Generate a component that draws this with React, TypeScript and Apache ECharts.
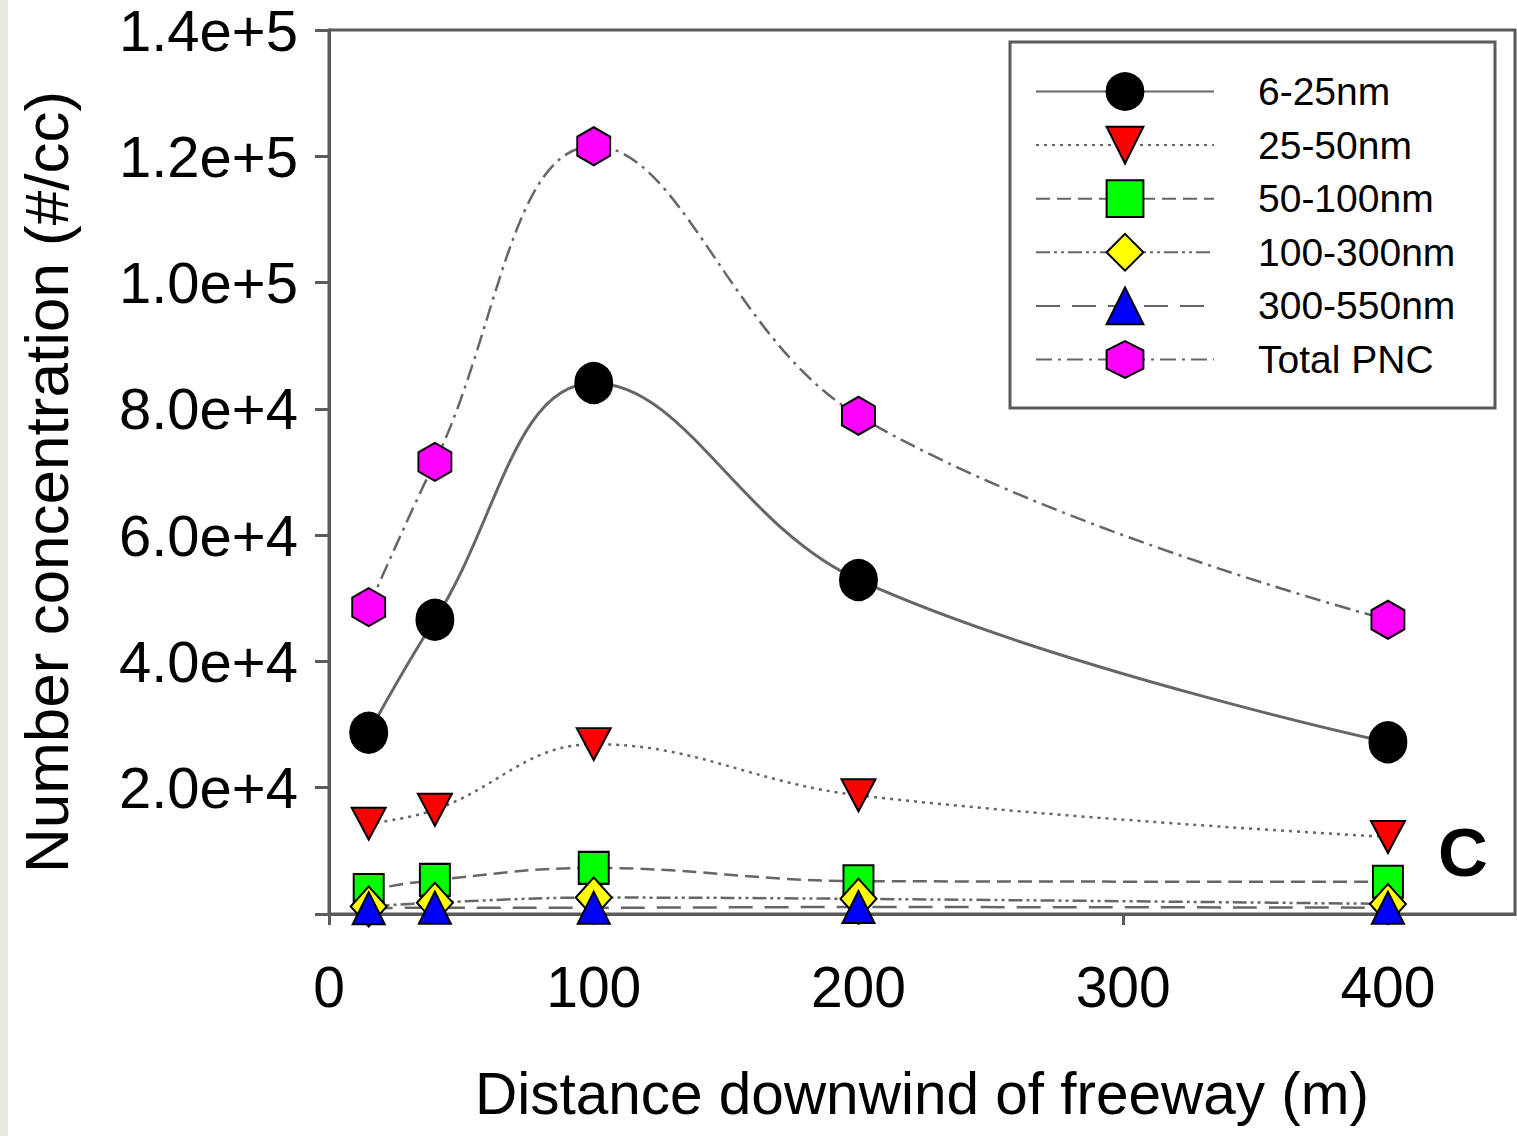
import React, { useEffect, useRef } from "react";
import * as echarts from "echarts";

// Distance downwind of the freeway (m)
const distances = [15, 40, 100, 200, 400];

// Number concentration (#/cc) per particle size range
const nm6_25 = [28700, 46600, 84100, 52900, 27200];
const nm25_50 = [14300, 16500, 26900, 18800, 12200];
const nm50_100 = [3800, 5400, 7300, 5200, 5100];
const nm100_300 = [1200, 1800, 2600, 2400, 1600];
const nm300_550 = [900, 1000, 1000, 1100, 1000];
const totalPNC = [48600, 71600, 121600, 78900, 46600];

const seriesNames = ["6-25nm", "25-50nm", "50-100nm", "100-300nm", "300-550nm", "Total PNC"];

const FONT = "'Liberation Sans', Arial, sans-serif";
const LINE_GREY = "#666666";
const FRAME_GREY = "#5a5a5a";

const HEXAGON = "path://M0,-1 L0.866,-0.5 L0.866,0.5 L0,1 L-0.866,0.5 L-0.866,-0.5 Z";
const TRIANGLE_DOWN = "path://M0,0 L2,0 L1,2 Z";

export default function App() {
  const ref = useRef<HTMLDivElement>(null);

  useEffect(() => {
    if (!ref.current) return;
    const chart = echarts.init(ref.current, null, { renderer: "svg" });

    const toPairs = (vals: number[]) => distances.map((d, i) => [d, vals[i]]);

    const makeSeries = (
      name: string,
      vals: number[],
      symbol: string,
      symbolSize: number[],
      fill: string,
      lineType: any,
      lineWidth = 2.5
    ) => ({
      name,
      type: "line",
      data: toPairs(vals),
      smooth: 0.4,
      clip: false,
      symbol,
      symbolSize,
      symbolKeepAspect: false,
      showSymbol: true,
      itemStyle: { color: fill, borderColor: "#000", borderWidth: 2, opacity: 1 },
      lineStyle: { color: LINE_GREY, width: lineWidth, type: lineType },
      emphasis: { disabled: true },
    });

    const option: any = {
      animation: false,
      backgroundColor: "#ffffff",
      textStyle: { fontFamily: FONT },
      grid: {
        left: 329,
        right: 2,
        top: 30,
        bottom: 222,
        containLabel: false,
        outerBoundsMode: "none",
        show: true,
        borderColor: FRAME_GREY,
        borderWidth: 3,
        backgroundColor: "transparent",
      },
      xAxis: {
        type: "value",
        min: 0,
        max: 448,
        interval: 100,
        name: "Distance downwind of freeway (m)",
        nameLocation: "middle",
        nameGap: 150,
        nameTextStyle: { fontSize: 58.5, color: "#000", fontFamily: FONT },
        axisLine: { show: true, onZero: false, lineStyle: { color: FRAME_GREY, width: 3 } },
        axisTick: { show: true, length: 11, lineStyle: { color: FRAME_GREY, width: 3 } },
        axisLabel: { fontSize: 57, color: "#000", margin: 44, fontFamily: FONT, showMaxLabel: false },
        splitLine: { show: false },
      },
      yAxis: {
        type: "value",
        min: 0,
        max: 140000,
        interval: 20000,
        name: "Number concentration (#/cc)",
        nameLocation: "middle",
        nameGap: 252,
        nameRotate: 90,
        nameTextStyle: { fontSize: 62, color: "#000", fontFamily: FONT, padding: [0, 20, 0, 0] },
        axisLine: { show: true, lineStyle: { color: FRAME_GREY, width: 3 } },
        axisTick: { show: true, length: 14, lineStyle: { color: FRAME_GREY, width: 3 } },
        axisLabel: {
          fontSize: 58,
          lineHeight: 48,
          color: "#000",
          margin: 31,
          fontFamily: FONT,
          formatter: (v: number) => (v === 0 ? "" : v.toExponential(1)),
        },
        splitLine: { show: false },
      },
      legend: {
        orient: "vertical",
        left: 1035,
        top: 72,
        padding: 0,
        itemWidth: 178,
        itemHeight: 46,
        itemGap: 14.6,
        data: seriesNames,
        selectedMode: false,
        textStyle: { fontSize: 39, color: "#000", fontFamily: FONT, padding: [0, 0, 0, 39] },
        z: 10,
      },
      graphic: [
        {
          type: "rect",
          left: 0,
          top: 0,
          shape: { width: 8, height: 1136 },
          style: { fill: "#ebe9dd" },
          z: 0,
        },
        {
          type: "rect",
          x: 1010,
          y: 42,
          shape: { width: 485, height: 366 },
          style: { fill: "#ffffff", stroke: FRAME_GREY, lineWidth: 3 },
          z: 5,
        },
        {
          type: "text",
          x: 1438,
          y: 818,
          style: { text: "C", fill: "#000", font: `bold 69px ${FONT}` },
          z: 10,
        },
      ],
      series: [
        makeSeries(seriesNames[0], nm6_25, "circle", [37, 40], "#000000", "solid", 3),
        makeSeries(seriesNames[1], nm25_50, TRIANGLE_DOWN, [34, 32], "#ff0000", [3, 5]),
        makeSeries(seriesNames[2], nm50_100, "rect", [30, 32], "#00ff00", [14, 7]),
        makeSeries(seriesNames[3], nm100_300, "diamond", [36, 40], "#ffff00", [14, 4, 3, 4, 3, 4]),
        makeSeries(seriesNames[4], nm300_550, "triangle", [32, 32], "#0000ff", [24, 12]),
        makeSeries(seriesNames[5], totalPNC, HEXAGON, [33, 38], "#ff00ff", [16, 6, 3, 6]),
      ],
    };

    chart.setOption(option);
    return () => chart.dispose();
  }, []);

  return (
    <div
      ref={ref}
      style={{ position: "fixed", left: 0, top: 0, width: 1517, height: 1136, background: "#fff" }}
    />
  );
}
